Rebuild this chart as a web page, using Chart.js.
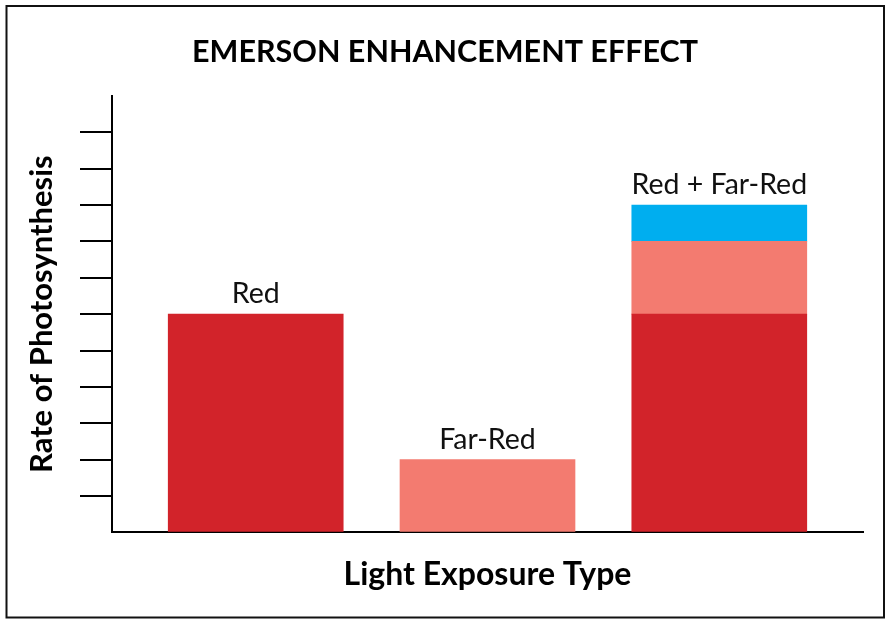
<!DOCTYPE html>
<html>
<head>
<meta charset="utf-8">
<script src="https://cdn.jsdelivr.net/npm/chart.js@4"></script>
<style>
  html, body { margin: 0; padding: 0; background: #fff; }
  canvas { display: block; }
</style>
</head>
<body>
<canvas id="chart" width="892" height="625"></canvas>
<script>
// chart data
const chartTitle = "EMERSON ENHANCEMENT EFFECT";
const categories = ["Red", "Far-Red", "Red + Far-Red"];
const redValues = [6, null, 6];
const farRedValues = [null, 2, 2];
const enhancementValues = [null, null, 1];
const yMin = 0;
const yMax = 12;

const toPoints = (values) => values.map((v, i) => ({ x: i, y: v }));

// title centred on the whole picture, not on the plot
const pageTitle = {
  id: "pageTitle",
  afterDraw(chart) {
    const ctx = chart.ctx;
    ctx.save();
    ctx.font = "bold 30.5px Lato";
    ctx.fillStyle = "#000";
    ctx.textAlign = "center";
    ctx.textBaseline = "alphabetic";
    ctx.fillText(chartTitle, chart.width / 2 - 1, 61.5);
    ctx.restore();
  },
};

// labels above each stacked bar
const barLabels = {
  id: "barLabels",
  afterDatasetsDraw(chart) {
    const { ctx, scales } = chart;
    ctx.save();
    ctx.font = "28.5px Lato";
    ctx.fillStyle = "#111";
    ctx.textAlign = "center";
    ctx.textBaseline = "alphabetic";
    categories.forEach((name, i) => {
      const total = (redValues[i] || 0) + (farRedValues[i] || 0) + (enhancementValues[i] || 0);
      const x = scales.x.getPixelForValue(i);
      const y = scales.y.getPixelForValue(total) - 11;
      ctx.fillText(name, x, y);
    });
    ctx.restore();
  },
};

// frame round the whole picture
const frame = {
  id: "frame",
  afterDraw(chart) {
    const ctx = chart.ctx;
    ctx.save();
    ctx.strokeStyle = "#111";
    ctx.lineWidth = 2;
    ctx.strokeRect(6.5, 6, 877.5, 611.5);
    ctx.restore();
  },
};

new Chart(document.getElementById("chart"), {
  type: "bar",
  data: {
    datasets: [
      { label: "Red", data: toPoints(redValues), backgroundColor: "#D2232A" },
      { label: "Far-Red", data: toPoints(farRedValues), backgroundColor: "#F37B70" },
      { label: "Enhancement", data: toPoints(enhancementValues), backgroundColor: "#00AEEF" },
    ],
  },
  options: {
    responsive: false,
    animation: false,
    barThickness: 175,
    layout: { padding: { top: 96, left: 6, right: 29, bottom: 10 } },
    plugins: {
      legend: { display: false },
      tooltip: { enabled: false },
      title: { display: false },
    },
    scales: {
      x: {
        type: "linear",
        stacked: true,
        offset: false,
        min: -0.62,
        max: 2.62,
        ticks: { display: false },
        grid: { display: false, drawTicks: false, offset: false },
        border: { display: true, color: "#000", width: 2 },
        title: {
          display: true,
          text: "Light Exposure Type",
          color: "#000",
          font: { family: "Lato", size: 32, weight: "bold", lineHeight: 1.2 },
          padding: { top: 23.5, bottom: 20.8 },
        },
      },
      y: {
        stacked: true,
        min: yMin,
        max: yMax,
        ticks: { display: false, stepSize: 1 },
        grid: {
          drawOnChartArea: false,
          drawTicks: true,
          tickLength: 32,
          lineWidth: 2,
          color: (c) => (c.tick && (c.tick.value === yMin || c.tick.value === yMax) ? "rgba(0,0,0,0)" : "#000"),
        },
        border: { display: true, color: "#000", width: 2 },
        title: {
          display: true,
          text: "Rate of Photosynthesis",
          color: "#000",
          font: { family: "Lato", size: 31, weight: "bold", lineHeight: 1.2 },
          padding: { top: 17, bottom: 19.8 },
        },
      },
    },
  },
  plugins: [pageTitle, barLabels, frame],
});
</script>
</body>
</html>
